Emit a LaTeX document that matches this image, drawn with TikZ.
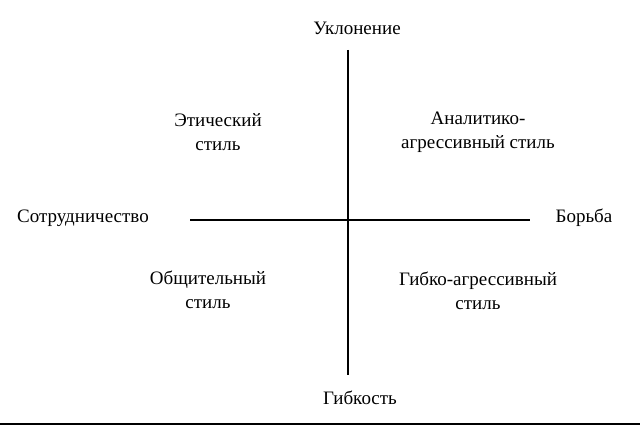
\documentclass[tikz,border=0pt]{standalone}
\usepackage{fontspec}
\setmainfont{Liberation Serif}
\usetikzlibrary{positioning}

\begin{document}
\begin{tikzpicture}[
        x=1pt, y=-1pt,
        pole/.style={
            inner sep=0pt,
            font=\fontsize{19}{24}\selectfont,
            align=center
        },
        quadrant/.style={
            inner sep=0pt,
            font=\fontsize{19}{24}\selectfont,
            align=center
        },
        axis/.style={
            line width=1.6pt,
            color=black
        }
    ]

    % frame of the picture
    \useasboundingbox (0,0) rectangle (640,425);

    % Poles of the axes
    \node[pole] (evasion) at (357,28) {Уклонение};
    \node[pole] (flex) at (360,398) {Гибкость};
    \node[pole] (coop) at (83,218) {Сотрудничество};
    \node[pole] (fight) at (584,218) {Борьба};

    % Styles in the four quadrants
    \node[quadrant] (ethic) at (218,132) {Этический\\стиль};
    \node[quadrant] (analytic) at (478,132) {Аналитико-\\агрессивный стиль};
    \node[quadrant] (social) at (208,290) {Общительный\\стиль};
    \node[quadrant] (flexaggr) at (478,291) {Гибко-агрессивный\\стиль};

    % Ends of the axes
    \coordinate (top) at (348,50);
    \coordinate (bottom) at (348,375);
    \coordinate (left) at (190,220);
    \coordinate (right) at (530,220);

    % Axes
    \draw[axis] (top) -- (bottom);
    \draw[axis] (left) -- (right);

    % bottom edge
    \draw[line width=1.2pt] (0,424) -- (640,424);

\end{tikzpicture}
\end{document}
